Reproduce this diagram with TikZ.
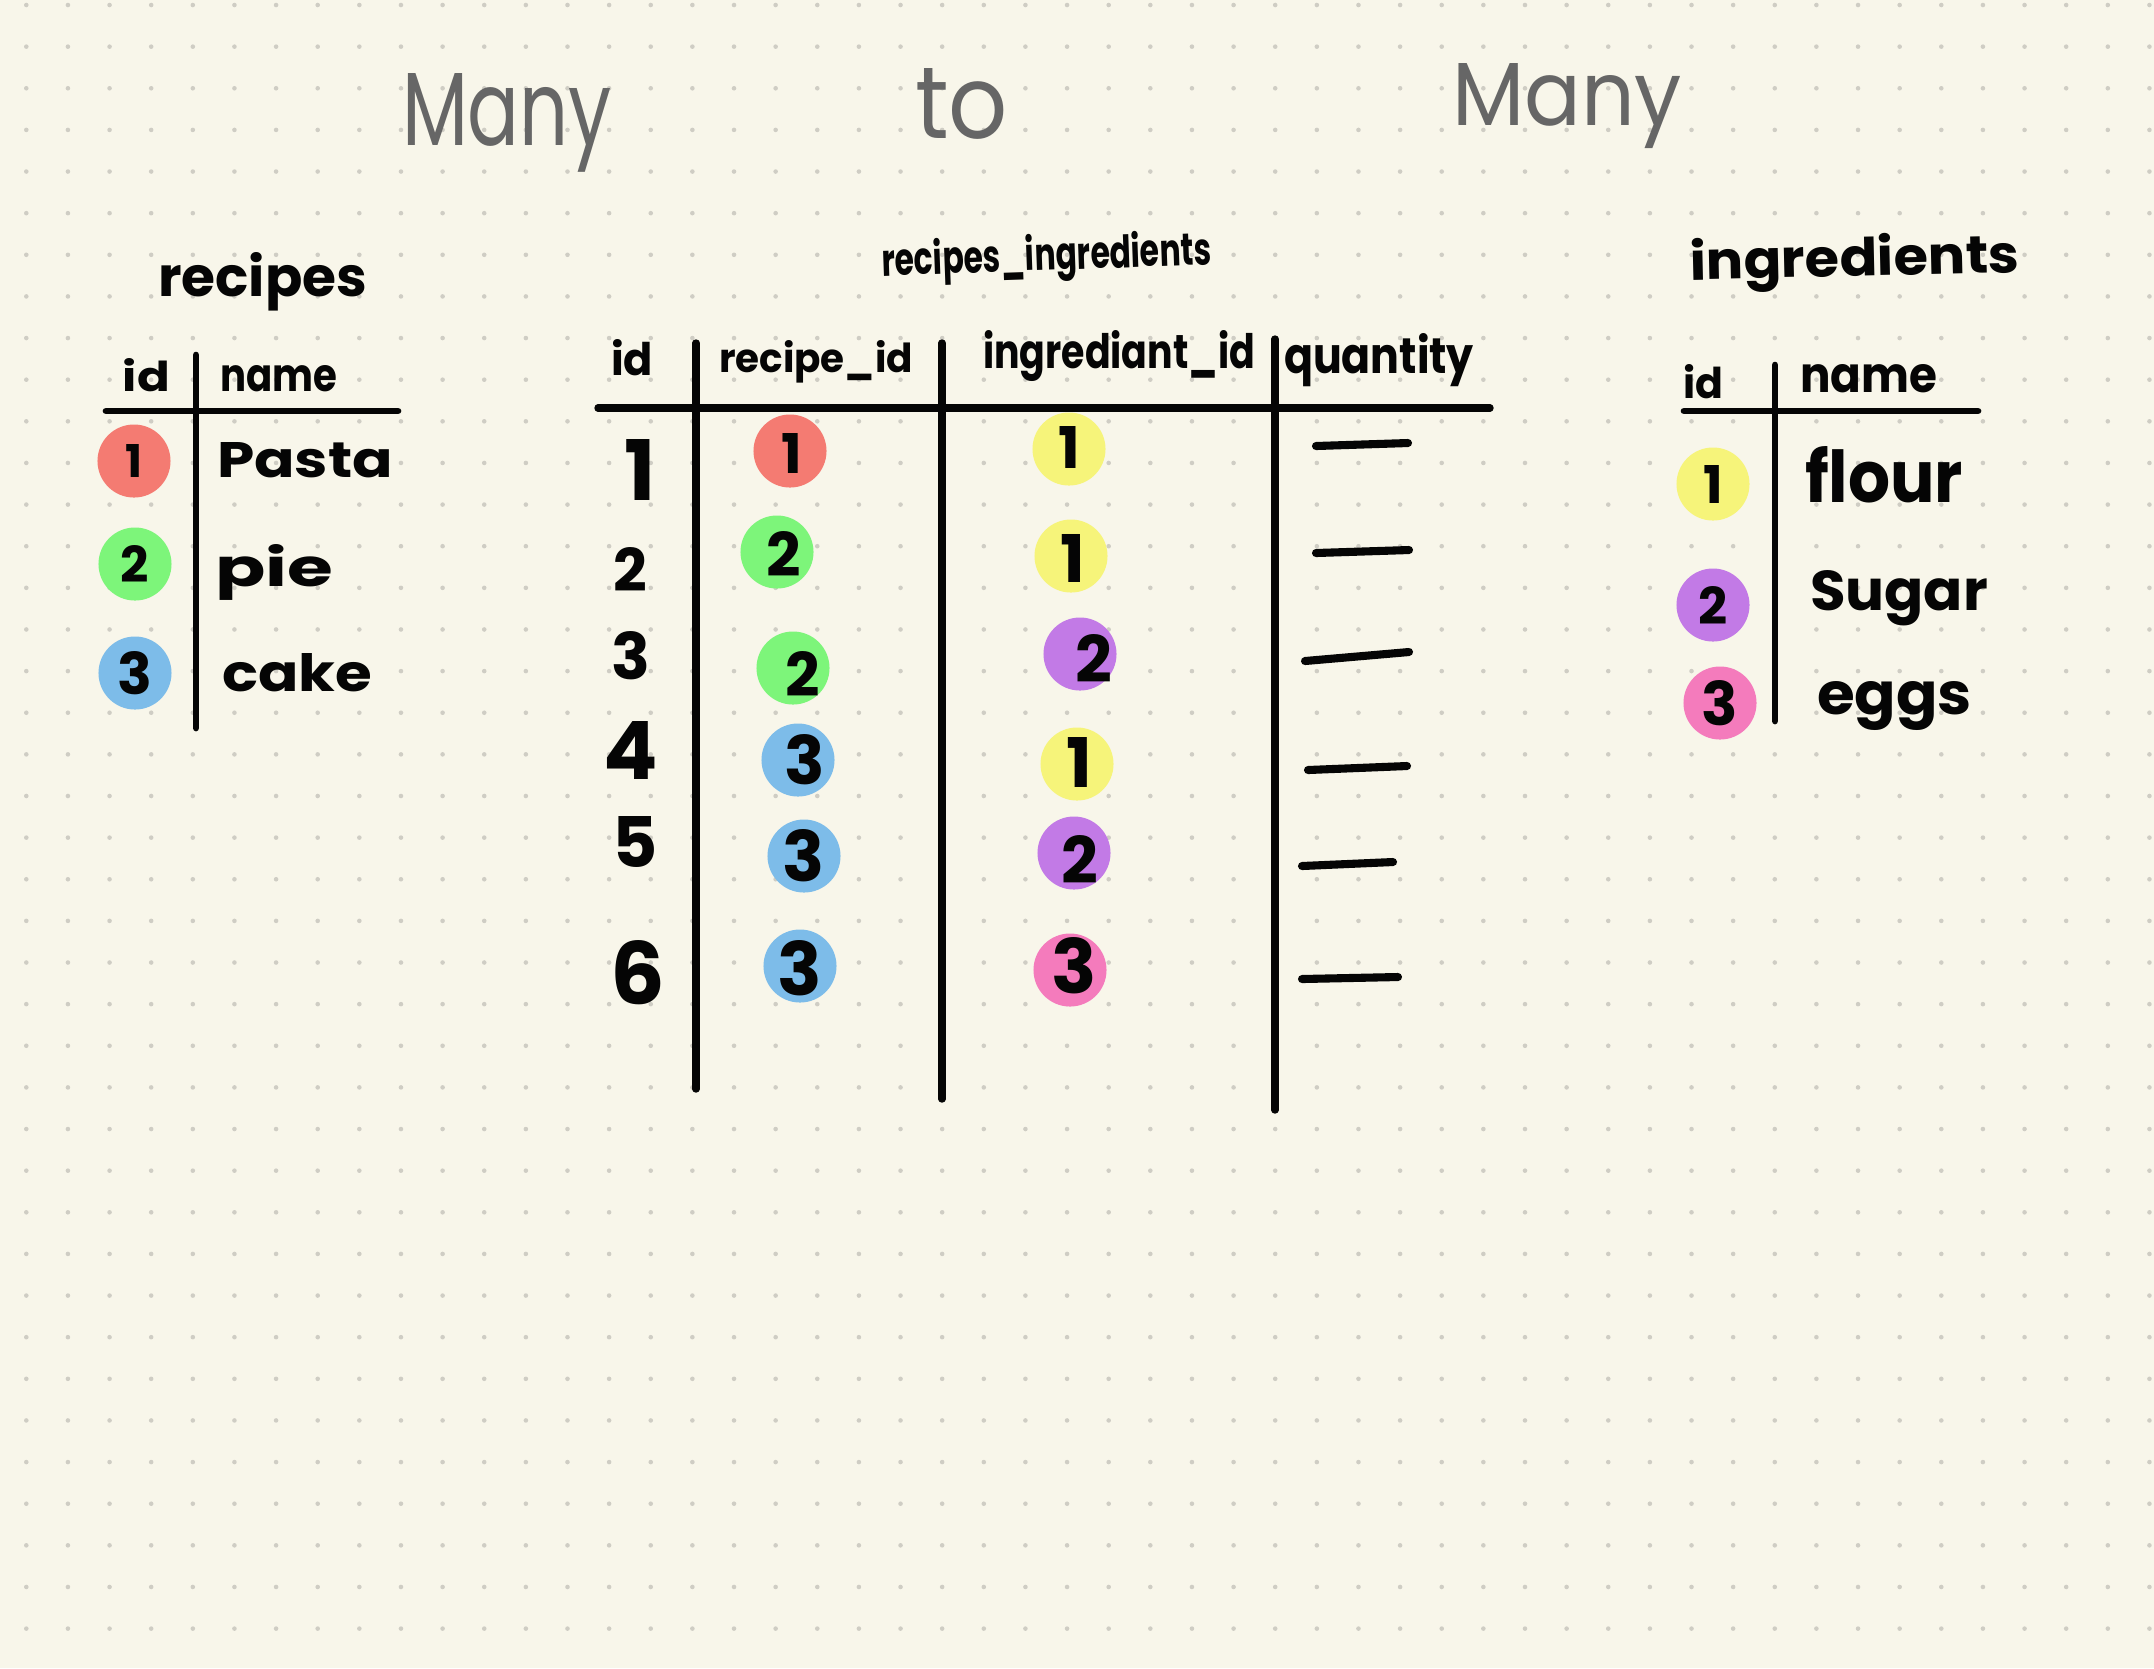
\documentclass[tikz,border=0pt]{standalone}
\usepackage{fontspec}
\setmainfont{Poppins}
\usepackage{graphicx}
\definecolor{paper}{HTML}{F8F6EA}
\definecolor{griddot}{HTML}{CFCDC4}
\definecolor{ink}{HTML}{050505}
\definecolor{titlegray}{HTML}{666666}
\definecolor{cred}{HTML}{F47B72}
\definecolor{cgreen}{HTML}{7DF57A}
\definecolor{cblue}{HTML}{7DBCE9}
\definecolor{cyellow}{HTML}{F6F47A}
\definecolor{cpurple}{HTML}{C27AE6}
\definecolor{cpink}{HTML}{F47BBC}
\newlength\hwu
\setlength\hwu{0.01cm}
\newcommand\hwt[3]{\resizebox{#1\hwu}{#2\hwu}{#3}}
\newcommand\hwd[2]{\resizebox{!}{#1\hwu}{#2}}
\begin{document}
\begin{tikzpicture}[x=0.01cm,y=-0.01cm,
  txt/.style={inner sep=0pt, outer sep=0pt, anchor=base west, font=\bfseries, text=ink},
  ttl/.style={inner sep=0pt, outer sep=0pt, anchor=base west, font=\mdseries, text=titlegray},
  digit/.style={inner sep=0pt, outer sep=0pt, anchor=center, font=\bfseries, text=ink},
  badge/.style={circle, inner sep=0pt, outer sep=0pt, minimum size=0.73cm, draw=none},
  rule/.style={draw=ink, line width=1.9pt, line cap=round},
  thickrule/.style={draw=ink, line width=2.1pt, line cap=round},
  dashline/.style={draw=ink, line width=2.3pt, line cap=round}]
% paper
\fill[paper] (0,0) rectangle (2154,1668);
\useasboundingbox (0,0) rectangle (2154,1668);
\foreach \i in {0,...,51}{
  \foreach \j in {0,...,39}{
    \fill[griddot] ({26.3+41.63*\i},{5+41.63*\j}) circle[radius=0.65pt];
  }
}
% title
\node[ttl] (tmany1) at (402,145) {\hwt{210}{72}{Many}};
\node[ttl] (tto) at (915,138) {\hwt{93}{70}{to}};
\node[ttl] (tmany2) at (1452,125) {\hwt{230}{62}{Many}};

% ---------- recipes table ----------
\node[txt] (rtitle) at (158,296) {\hwt{209}{44}{recipes}};
\node[txt] (rhid) at (123,391) {\hwt{47}{33}{id}};
\node[txt] (rhname) at (220,391) {\hwt{117}{26}{name}};
\draw[rule] (106,411) -- (398,411);
\draw[rule] (196,355) -- (196,728);
\node[badge, fill=cred] (rb1) at (134,461) {};
\node[badge, fill=cgreen] (rb2) at (135,564) {};
\node[badge, fill=cblue] (rb3) at (135,673) {};
\node[digit] (rd1) at (rb1) {\hwd{33}{1}};
\node[digit] (rd2) at (rb2) {\hwd{37}{2}};
\node[digit] (rd3) at (rb3) {\hwd{43}{3}};
\node[txt] (rn1) at (217,477) {\hwt{176}{35}{Pasta}};
\node[txt] (rn2) at (215,586) {\hwt{118}{42}{pie}};
\node[txt] (rn3) at (222,691) {\hwt{150}{38}{cake}};

% ---------- recipes_ingredients table ----------
\node[txt, rotate=2] (mtitle) at (882,276) {\hwt{330}{36}{recipes\_ingredients}};
\node[txt] (mhid) at (611,375) {\hwt{42}{36}{id}};
\node[txt] (mhrid) at (719,372) {\hwt{194}{32}{recipe\_id}};
\node[txt] (mhiid) at (983,368) {\hwt{272}{38}{ingrediant\_id}};
\node[txt] (mhq) at (1284,373) {\hwt{190}{40}{quantity}};
\draw[thickrule] (598,408) -- (1490,408);
\draw[thickrule] (696,343) -- (696,1089);
\draw[thickrule] (942,343) -- (942,1099);
\draw[thickrule] (1275,339) -- (1275,1110);
% id column
\node[digit] (mid1) at (640,470) {\hwd{61}{1}};
\node[digit] (mid2) at (630,569) {\hwd{44}{2}};
\node[digit] (mid3) at (631,656) {\hwd{48}{3}};
\node[digit] (mid4) at (631,750) {\hwd{58}{4}};
\node[digit] (mid5) at (635,842) {\hwd{51}{5}};
\node[digit] (mid6) at (638,973) {\hwd{64}{6}};
% recipe_id column
\node[badge, fill=cred] (mrb1) at (790,451) {};
\node[badge, fill=cgreen] (mrb2) at (777,552) {};
\node[badge, fill=cgreen] (mrb3) at (793,668) {};
\node[badge, fill=cblue] (mrb4) at (798,760) {};
\node[badge, fill=cblue] (mrb5) at (804,856) {};
\node[badge, fill=cblue] (mrb6) at (800,966) {};
\node[digit] (mrd1) at ([shift={(2,2)}]mrb1.center) {\hwd{40}{1}};
\node[digit] (mrd2) at ([shift={(7,2)}]mrb2.center) {\hwd{45}{2}};
\node[digit] (mrd3) at ([shift={(10,6)}]mrb3.center) {\hwd{45}{2}};
\node[digit] (mrd4) at ([shift={(7,0)}]mrb4.center) {\hwd{50}{3}};
\node[digit] (mrd5) at ([shift={(0,0)}]mrb5.center) {\hwd{52}{3}};
\node[digit] (mrd6) at ([shift={(0,2)}]mrb6.center) {\hwd{55}{3}};
% ingrediant_id column
\node[badge, fill=cyellow] (mib1) at (1069,449) {};
\node[badge, fill=cyellow] (mib2) at (1071,556) {};
\node[badge, fill=cpurple] (mib3) at (1080,654) {};
\node[badge, fill=cyellow] (mib4) at (1077,764) {};
\node[badge, fill=cpurple] (mib5) at (1074,853) {};
\node[badge, fill=cpink] (mib6) at (1070,970) {};
\node[digit] (mid1b) at ([shift={(0,-2)}]mib1.center) {\hwd{42}{1}};
\node[digit] (mid2b) at ([shift={(2,2)}]mib2.center) {\hwd{48}{1}};
\node[digit] (mid3b) at ([shift={(14,4)}]mib3.center) {\hwd{48}{2}};
\node[digit] (mid4b) at ([shift={(2,-2)}]mib4.center) {\hwd{50}{1}};
\node[digit] (mid5b) at ([shift={(6,6)}]mib5.center) {\hwd{48}{2}};
\node[digit] (mid6b) at ([shift={(4,-4)}]mib6.center) {\hwd{56}{3}};
% quantity column
\draw[dashline] (1316,446) -- (1408,443);
\draw[dashline] (1316,553) -- (1409,550);
\draw[dashline] (1305,661) -- (1409,652);
\draw[dashline] (1308,770) -- (1407,766);
\draw[dashline] (1302,866) -- (1393,862);
\draw[dashline] (1302,979) -- (1398,977);

% ---------- ingredients table ----------
\node[txt, rotate=1.3] (ititle) at (1690,280) {\hwt{330}{42}{ingredients}};
\node[txt] (ihid) at (1683,398) {\hwt{40}{34}{id}};
\node[txt] (ihname) at (1800,392) {\hwt{137}{28}{name}};
\draw[rule] (1684,411) -- (1978,411);
\draw[rule] (1775,365) -- (1775,721);
\node[badge, fill=cyellow] (ib1) at (1713,484) {};
\node[badge, fill=cpurple] (ib2) at (1713,605) {};
\node[badge, fill=cpink] (ib3) at (1720,703) {};
\node[digit] (id1) at (ib1) {\hwd{38}{1}};
\node[digit] (id2) at (ib2) {\hwd{38}{2}};
\node[digit] (id3) at (ib3) {\hwd{45}{3}};
\node[txt] (in1) at (1805,502) {\hwt{158}{56}{flour}};
\node[txt] (in2) at (1810,610) {\hwt{178}{40}{Sugar}};
\node[txt] (in3) at (1817,714) {\hwt{155}{33}{eggs}};
\end{tikzpicture}
\end{document}
